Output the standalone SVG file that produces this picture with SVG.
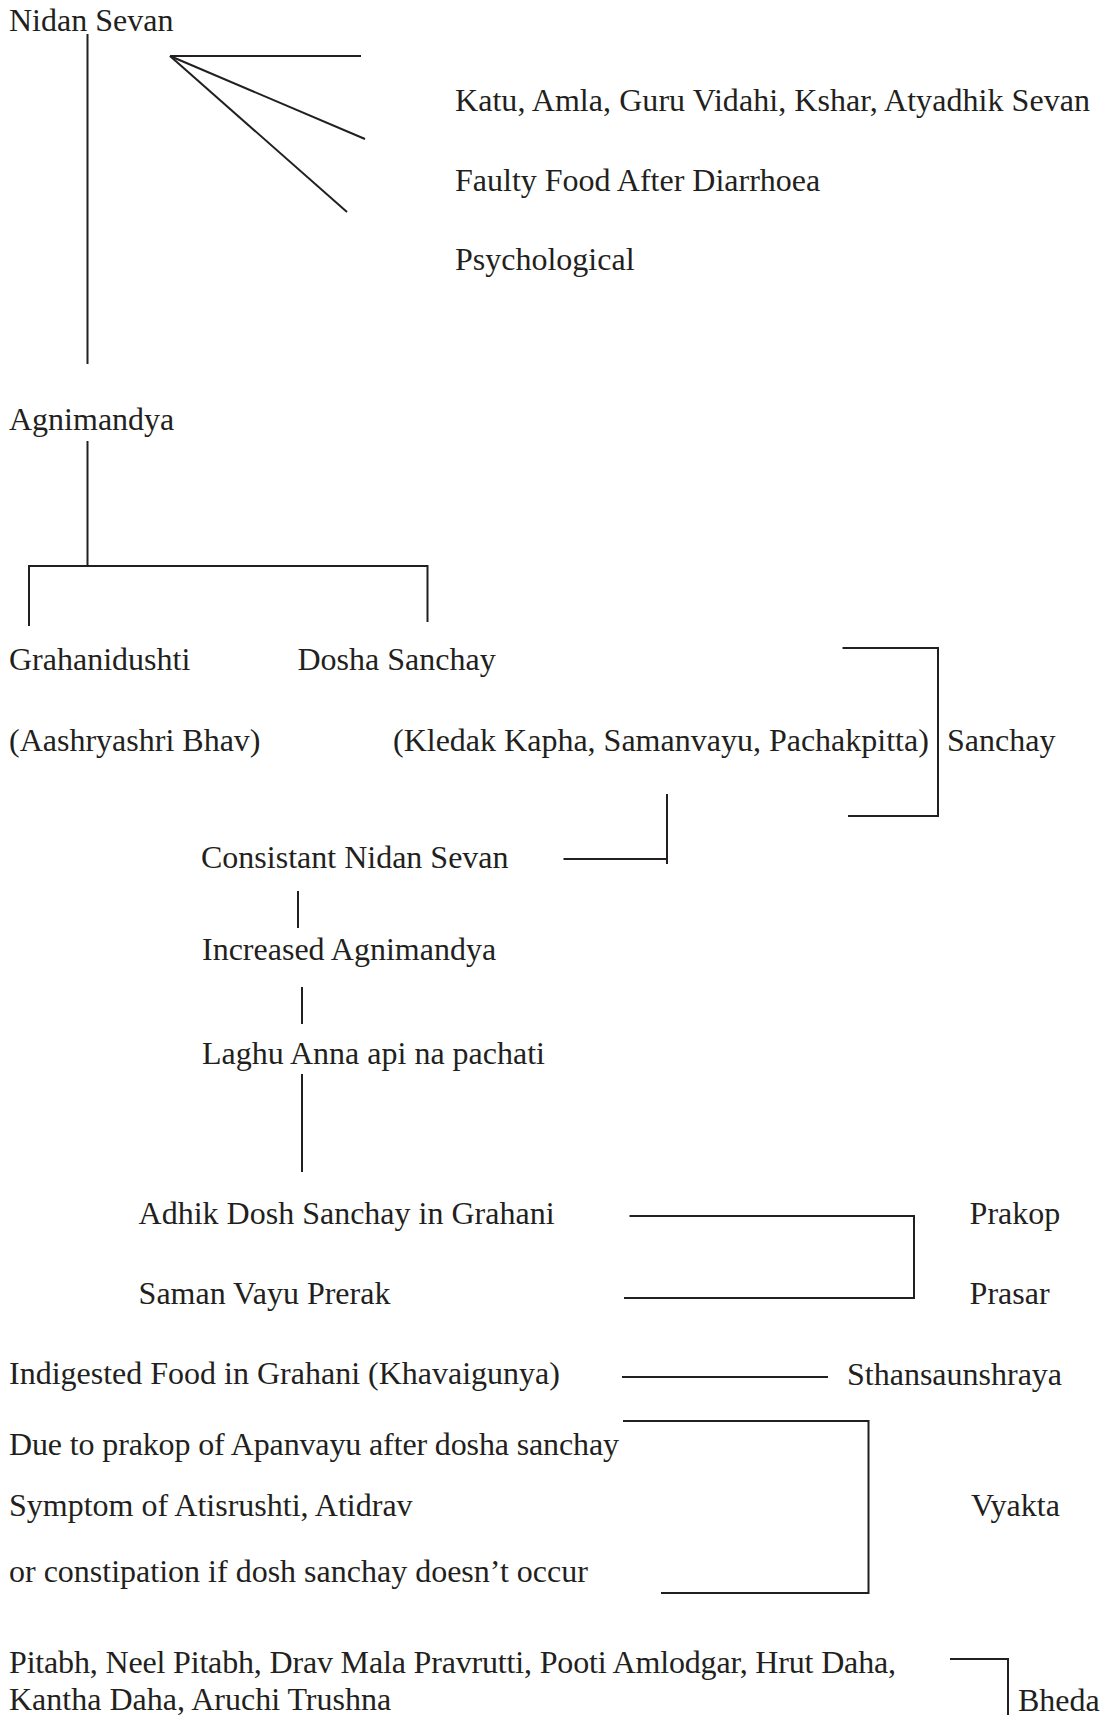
<svg xmlns="http://www.w3.org/2000/svg" width="1106" height="1715" viewBox="0 0 1106 1715">
<style>
text{font-family:"Liberation Serif","Times New Roman",serif;font-size:32px;fill:#231f20}
.c line,.c polyline{stroke:#231f20;stroke-width:2;fill:none}
</style>
<rect width="1106" height="1715" fill="#fff"/>
<g class="c" id="connectors">
<line x1="87.5" y1="34" x2="87.5" y2="364"/>
<line x1="170" y1="56" x2="361" y2="56"/>
<line x1="170" y1="56" x2="365" y2="139"/>
<line x1="170" y1="56" x2="347" y2="212"/>
<line x1="87.5" y1="441" x2="87.5" y2="566"/>
<polyline points="29,626 29,566 427.5,566 427.5,622"/>
<polyline points="842.5,648 938,648 938,816 848,816"/>
<polyline points="563.5,859 667,859"/>
<line x1="667" y1="794" x2="667" y2="864"/>
<line x1="298" y1="891" x2="298" y2="928"/>
<line x1="302" y1="987" x2="302" y2="1024"/>
<line x1="302" y1="1074" x2="302" y2="1172"/>
<polyline points="629.5,1216 914,1216 914,1298 624,1298"/>
<line x1="622" y1="1377" x2="828" y2="1377"/>
<polyline points="623,1421 868.5,1421 868.5,1593 661,1593"/>
<polyline points="950,1659 1008,1659 1008,1715"/>
</g>
<g id="n-nidan"><text x="9" y="31">Nidan Sevan</text></g>
<g id="n-katu"><text x="455" y="111" textLength="635" lengthAdjust="spacing">Katu, Amla, Guru Vidahi, Kshar, Atyadhik Sevan</text></g>
<g id="n-faulty"><text x="455" y="191">Faulty Food After Diarrhoea</text></g>
<g id="n-psych"><text x="455" y="270">Psychological</text></g>
<g id="n-agni"><text x="9" y="430">Agnimandya</text></g>
<g id="n-grahani"><text x="9" y="670">Grahanidushti</text></g>
<g id="n-dosha"><text x="297.5" y="670">Dosha Sanchay</text></g>
<g id="n-aash"><text x="9" y="751">(Aashryashri Bhav)</text></g>
<g id="n-kledak"><text x="393" y="751">(Kledak Kapha, Samanvayu, Pachakpitta)</text></g>
<g id="n-sanchay"><text x="947" y="751">Sanchay</text></g>
<g id="n-consist"><text x="201" y="868">Consistant Nidan Sevan</text></g>
<g id="n-incr"><text x="202" y="960">Increased Agnimandya</text></g>
<g id="n-laghu"><text x="202" y="1064">Laghu Anna api na pachati</text></g>
<g id="n-adhik"><text x="138.6" y="1224">Adhik Dosh Sanchay in Grahani</text></g>
<g id="n-prakop"><text x="969.6" y="1224">Prakop</text></g>
<g id="n-saman"><text x="138.6" y="1304">Saman Vayu Prerak</text></g>
<g id="n-prasar"><text x="969.6" y="1304">Prasar</text></g>
<g id="n-indig"><text x="9" y="1384">Indigested Food in Grahani (Khavaigunya)</text></g>
<g id="n-sthan"><text x="847" y="1385">Sthansaunshraya</text></g>
<g id="n-due"><text x="9" y="1455" textLength="610" lengthAdjust="spacing">Due to prakop of Apanvayu after dosha sanchay</text></g>
<g id="n-symptom"><text x="9" y="1516">Symptom of Atisrushti, Atidrav</text></g>
<g id="n-vyakta"><text x="971" y="1516">Vyakta</text></g>
<g id="n-or"><text x="9" y="1582">or constipation if dosh sanchay doesn’t occur</text></g>
<g id="n-pitabh"><text x="9" y="1673" textLength="887" lengthAdjust="spacing">Pitabh, Neel Pitabh, Drav Mala Pravrutti, Pooti Amlodgar, Hrut Daha,</text><text x="9" y="1710">Kantha Daha, Aruchi Trushna</text></g>
<g id="n-bheda"><text x="1018" y="1711">Bheda</text></g>
</svg>
